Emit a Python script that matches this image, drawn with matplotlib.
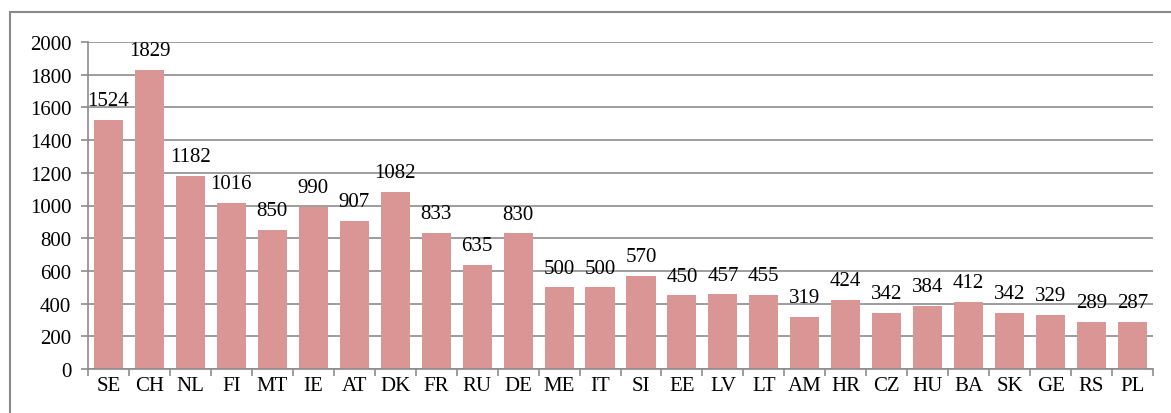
import matplotlib.pyplot as plt
from matplotlib.patches import Rectangle

countries = ['SE', 'CH', 'NL', 'FI', 'MT', 'IE', 'AT', 'DK', 'FR', 'RU', 'DE', 'ME', 'IT',
             'SI', 'EE', 'LV', 'LT', 'AM', 'HR', 'CZ', 'HU', 'BA', 'SK', 'GE', 'RS', 'PL']
values = [1524, 1829, 1182, 1016, 850, 990, 907, 1082, 833, 635, 830, 500, 500,
          570, 450, 457, 455, 319, 424, 342, 384, 412, 342, 329, 289, 287]
yticks = [0, 200, 400, 600, 800, 1000, 1200, 1400, 1600, 1800, 2000]

plt.rcParams['font.family'] = ['Liberation Serif', 'DejaVu Serif']

W, H = 1171, 414
fig = plt.figure(figsize=(W / 100, H / 100), dpi=100)
# outer chart frame
fig.patches.append(Rectangle((10 / W, -0.1), 1.2, (H - 13) / H + 0.1, transform=fig.transFigure,
                             fill=False, edgecolor='#898989', linewidth=1.5))

ax = fig.add_axes([88 / W, (H - 370) / H, (1153 - 88) / W, (370 - 43) / H])
x = range(len(countries))
ax.bar(x, values, width=0.71, color='#D99694', zorder=2)
for i, v in enumerate(values):
    ax.annotate(str(v), (i, v), xytext=(0, 7), textcoords='offset points',
                ha='center', va='bottom', fontsize=15)

ax.set_xlim(-0.5, len(countries) - 0.5)
ax.set_ylim(0, 2000)
ax.set_yticks(yticks)
ax.set_yticklabels([str(t) for t in yticks], fontsize=15)
ax.yaxis.grid(True, color='#8c8c8c', linewidth=1.2, zorder=0)
ax.set_axisbelow(True)

ax.set_xticks([i - 0.5 for i in range(len(countries) + 1)])
ax.set_xticklabels([])
ax.set_xticks(list(x), minor=True)
ax.set_xticklabels(countries, minor=True, fontsize=15)
ax.tick_params(axis='x', which='minor', length=0, pad=5)
ax.tick_params(axis='x', which='major', length=5, color='#8c8c8c', width=1.2)
ax.tick_params(axis='y', length=5, color='#8c8c8c', width=1.2, pad=7)

for s in ['top', 'right']:
    ax.spines[s].set_visible(False)
for s in ['left', 'bottom']:
    ax.spines[s].set_color('#8c8c8c')
    ax.spines[s].set_linewidth(1.2)

fig.savefig('out.png', dpi=100)
